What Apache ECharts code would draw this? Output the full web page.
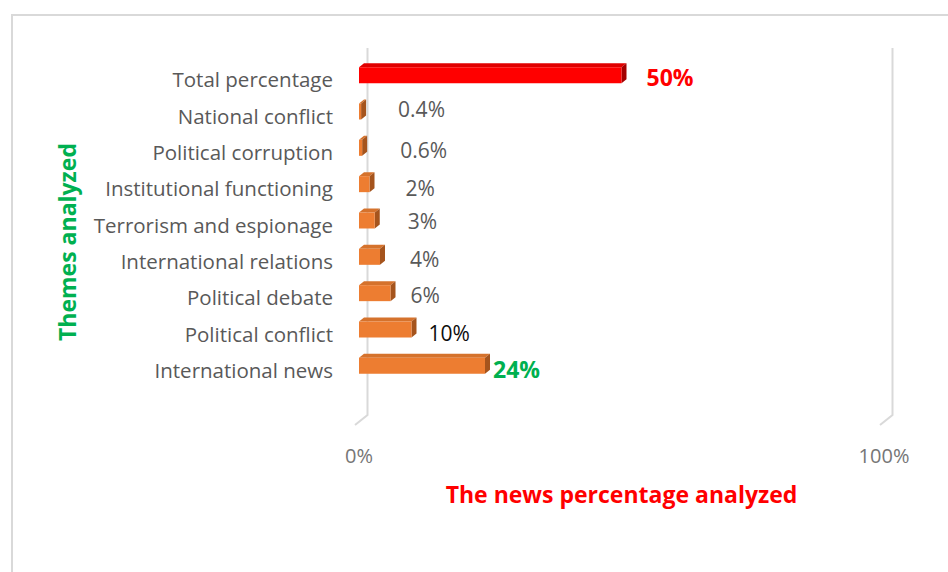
<!DOCTYPE html>
<html>
<head>
<meta charset="utf-8">
<script src="https://cdn.jsdelivr.net/npm/echarts@6/dist/echarts.min.js"></script>
<style>
  html, body { margin: 0; padding: 0; background: #fff; }
  #chart { width: 948px; height: 572px; }
</style>
</head>
<body>
<div id="chart"></div>
<script>
// Themes, top to bottom as they appear in the chart.
var themes = [
  "Total percentage",
  "National conflict",
  "Political corruption",
  "Institutional functioning",
  "Terrorism and espionage",
  "International relations",
  "Political debate",
  "Political conflict",
  "International news"
];
// Share of analyzed news, in %.
var shares = [50, 0.4, 0.6, 2, 3, 4, 6, 10, 24];
// Value axis ends.
var axisMin = 0;
var axisMax = 100;

// --- look ---
var FONT = '"Open Sans", "Noto Sans", sans-serif';
var faces = {
  theme: { front: "#ED7D31", top: "#D5722C", side: "#A5541D" },
  total: { front: "#FF0000", top: "#E00000", side: "#A40000" }
};
// per-label look (Excel labels were nudged by hand)
var labelLook = [
  { color: "#FF0000", size: 23, weight: "bold", gap: 20, dy: 2 },
  { color: "#595959", size: 21, weight: "normal", gap: 32, dy: -3 },
  { color: "#595959", size: 21, weight: "normal", gap: 33, dy: 2 },
  { color: "#595959", size: 21, weight: "normal", gap: 31, dy: 4 },
  { color: "#595959", size: 21, weight: "normal", gap: 28, dy: 0 },
  { color: "#595959", size: 21, weight: "normal", gap: 25, dy: 2 },
  { color: "#595959", size: 21, weight: "normal", gap: 15, dy: 2 },
  { color: "#0D0D0D", size: 21, weight: "normal", gap: 12, dy: 3 },
  { color: "#00B050", size: 23, weight: "bold", gap: 3, dy: 3 }
];
var DX = 5, DY = 4;          // 3-D depth of each bar
var WALL = "#D9D9D9";

function pct(v) { return v + "%"; }

function renderBar(params, api) {
  var i = params.dataIndex;
  var v = api.value(0), c = api.value(1);
  var p0 = api.coord([0, c]);
  var p1 = api.coord([v, c]);
  var h = api.size([0, 1])[1] * 0.44;
  var yt = p0[1] - h / 2, yb = p0[1] + h / 2;
  var x0 = p0[0], x1 = p1[0];
  var f = i === 0 ? faces.total : faces.theme;
  var lk = labelLook[i];
  return {
    type: "group",
    children: [
      { type: "polygon", shape: { points: [[x0, yt], [x1, yt], [x1 + DX, yt - DY], [x0 + DX, yt - DY]] },
        style: { fill: f.top } },
      { type: "polygon", shape: { points: [[x1, yt], [x1 + DX, yt - DY], [x1 + DX, yb - DY], [x1, yb]] },
        style: { fill: f.side } },
      { type: "rect", shape: { x: x0, y: yt, width: Math.max(x1 - x0, 0.5), height: h },
        style: { fill: f.front } },
      { type: "text", x: x1 + DX + lk.gap, y: p0[1] + lk.dy,
        style: { text: pct(v), fill: lk.color, fontSize: lk.size, fontWeight: lk.weight,
          fontFamily: FONT, align: "left", verticalAlign: "middle" } }
    ]
  };
}

var chart = echarts.init(document.getElementById("chart"), null, { renderer: "svg" });

chart.setOption({
  backgroundColor: "#fff",
  animation: false,
  grid: { left: 359, right: 64, top: 57, bottom: 188 },
  xAxis: {
    type: "value", min: axisMin, max: axisMax, interval: axisMax - axisMin,
    axisLine: { show: false }, axisTick: { show: false }, splitLine: { show: false },
    axisLabel: { formatter: "{value}%", margin: 61, color: "#767676", fontSize: 20, fontFamily: FONT },
    name: "The news percentage analyzed", nameLocation: "middle", nameGap: 98,
    nameTextStyle: { color: "#FF0000", fontSize: 23, fontWeight: "bold", fontFamily: FONT }
  },
  yAxis: {
    type: "category", data: themes, inverse: true,
    axisLine: { show: false }, axisTick: { show: false },
    axisLabel: {
      margin: 26,
      formatter: function (v) { return "{t|" + v + "}"; },
      rich: { t: { color: "#595959", fontSize: 20.5, fontFamily: FONT, padding: [8, 0, 0, 0] } }
    },
    name: "Themes analyzed", nameLocation: "middle", nameRotate: 90, nameGap: 281,
    nameTextStyle: { color: "#00B050", fontSize: 23, fontWeight: "bold", fontFamily: FONT, padding: [0, 43, 0, 0] }
  },
  series: [{
    type: "custom",
    renderItem: renderBar,
    encode: { x: 0, y: 1 },
    data: shares.map(function (v, i) { return [v, i]; }),
    z: 3
  }]
});

// Back walls of the 3-D plot and the outer chart border.
var a = chart.convertToPixel({ xAxisIndex: 0 }, axisMin);
var b = chart.convertToPixel({ xAxisIndex: 0 }, axisMax);
function wall(x) {
  return { type: "polyline", z: 0, silent: true,
    shape: { points: [[x + 8.5, 48], [x + 8.5, 415], [x - 4, 425]] },
    style: { stroke: WALL, lineWidth: 2, fill: null } };
}
chart.setOption({
  graphic: [
    { type: "rect", z: 0, silent: true, shape: { x: 12, y: 15, width: 960, height: 600 },
      style: { stroke: WALL, lineWidth: 2, fill: null } },
    wall(a), wall(b)
  ]
});
</script>
</body>
</html>
